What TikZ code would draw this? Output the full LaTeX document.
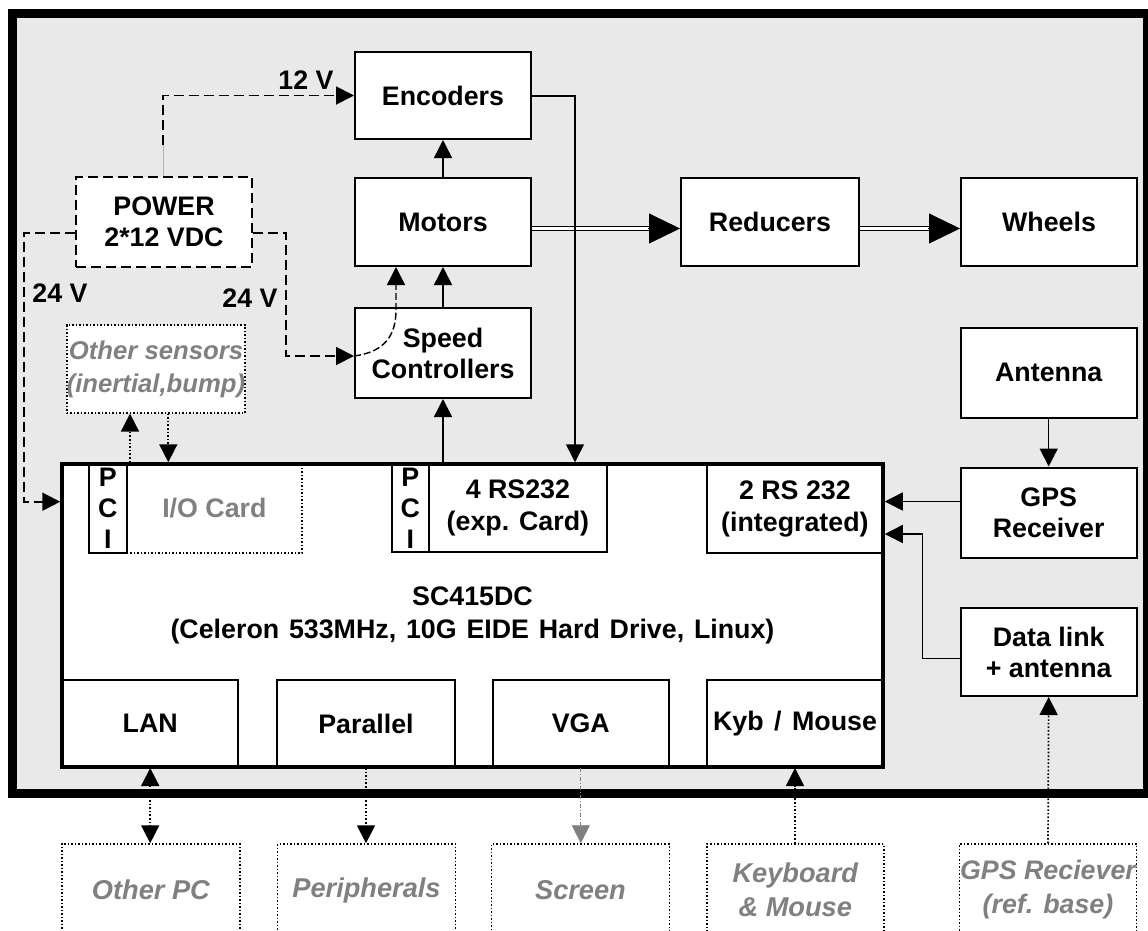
\documentclass[tikz,border=0pt]{standalone}
\usepackage{fontspec}
\setmainfont{Liberation Sans}
\usetikzlibrary{arrows.meta,calc}
\definecolor{bg}{HTML}{E9E9E9}
\definecolor{txtgray}{HTML}{808080}
\newcommand\widesp[1]{\spaceskip #1\relax}
\tikzset{
  smtip/.tip={Triangle[length=18pt,width=18pt]},
  bigtip/.tip={Triangle[length=31pt,width=30pt]},
  every node/.style={font=\fontsize{26.8}{31}\selectfont\bfseries, align=center, inner sep=0pt},
  box/.style={draw, fill=white, line width=2pt},
  mainbox/.style={draw, fill=white, line width=3.5pt, font={\fontsize{26.8}{33}\selectfont\bfseries\widesp{9.8pt}}},
  pwrbox/.style={draw, fill=white, line width=1.9pt, dash pattern=on 10pt off 5pt},
  dotbox/.style={draw, fill=white, line width=1.5pt, dash pattern=on 1.5pt off 2pt, text=txtgray},
  extbox/.style={draw, fill=white, line width=1.5pt, dash pattern=on 1.5pt off 2pt, text=txtgray,
     font=\fontsize{27.2}{34}\selectfont\bfseries\itshape},
  ln/.style={line width=1.5pt},
  pwr/.style={line width=1.9pt, dash pattern=on 10pt off 5pt},
  pwrc/.style={line width=1.4pt, dash pattern=on 7pt off 3pt},
  dot/.style={line width=1.7pt, dash pattern=on 1.6pt off 2pt},
  dashdot/.style={line width=0.9pt, draw=gray, dash pattern=on 4pt off 2pt on 1pt off 2pt},
  arr/.style={-smtip},
  arrboth/.style={smtip-smtip},
  dbl/.style={line width=1.1pt, double, double distance=3pt},
  bigarr/.style={line width=1pt, -bigtip},
}
\begin{document}
\begin{tikzpicture}[x=1pt,y=-1pt]
\useasboundingbox (0,0) rectangle (1148,930);
% outer frame
\draw[line width=9pt, fill=bg] (12.5,13.5) rectangle (1147.8,793.5);

% upper blocks
\node[box, minimum width=176pt, minimum height=87pt] (enc) at (443,95.5) {Encoders};
\node[box, minimum width=176pt, minimum height=88pt] (mot) at (443,222) {Motors};
\node[box, minimum width=176pt, minimum height=90pt] (spd) at (443,353) {Speed\\Controllers};
\node[box, minimum width=178pt, minimum height=88pt] (red) at (770,222) {Reducers};
\node[box, minimum width=176pt, minimum height=88pt] (whl) at (1049,222) {Wheels};
\node[box, minimum width=176pt, minimum height=90pt] (ant) at (1048.7,372.5) {Antenna};
\node[box, minimum width=176pt, minimum height=90pt] (gps) at (1048.7,512.5) {GPS\\Receiver};
\node[box, minimum width=176pt, minimum height=88pt] (dl) at (1048.7,652) {Data link\\+ antenna};
\node[pwrbox, minimum width=176pt, minimum height=90pt] (power) at (164,221.7) {POWER\\2*12 VDC};
\node[dotbox, minimum width=176.6pt, minimum height=87.7pt, font=\fontsize{25.7}{33}\selectfont\bfseries\itshape] (sens) at (156,369) {Other sensors\\(inertial,bump)};

% main computer
\node[mainbox, minimum width=821pt, minimum height=303pt] (main) at (472.5,615.5) {SC415DC\\(Celeron 533MHz, 10G EIDE Hard Drive, Linux)};
\node[box, minimum width=37.7pt, minimum height=89pt] (pci1) at (107.9,508.5) {P\\C\\I};
\node[dotbox, fill=none, minimum width=175.3pt, minimum height=89pt] (io) at (214.4,508.5) {I/O Card};
\node[box, minimum width=37.3pt, minimum height=88pt] (pci2) at (410.4,508) {P\\C\\I};
\node[box, minimum width=177.7pt, minimum height=88pt, font=\fontsize{26.8}{32}\selectfont\bfseries] (rs4) at (517.9,508) {4 RS232\\(exp. Card)};
\node[box, minimum width=176.3pt, minimum height=89pt, font=\fontsize{26.8}{32}\selectfont\bfseries] (rs2) at (794.9,508.5) {2 RS 232\\(integrated)};
\node[box, minimum width=176.4pt, minimum height=87pt] (lan) at (150.2,723.5) {LAN};
\node[box, minimum width=178pt, minimum height=87pt] (par) at (366,723.5) {Parallel};
\node[box, minimum width=175.5pt, minimum height=87pt] (vga) at (580.8,723.5) {VGA};
\node[box, minimum width=176pt, minimum height=87pt, font={\fontsize{26.8}{31}\selectfont\bfseries\widesp{10.5pt}}] (kyb) at (795,723.5) {Kyb / Mouse};
\draw[line width=3.5pt] (main.north west) ++(1.75,1.75) rectangle ($(main.south east)+(-1.75,-1.75)$);

% external devices
\node[extbox, minimum width=178.3pt, minimum height=92pt] (opc) at (150.9,890) {Other PC};
\node[extbox, minimum width=178pt, minimum height=92pt] (per) at (366.5,890) {Peripherals};
\node[extbox, minimum width=177.6pt, minimum height=92pt] (scr) at (580.5,890) {Screen};
\node[extbox, minimum width=177pt, minimum height=92pt] (kbd) at (795.3,890) {Keyboard\\\& Mouse};
\node[extbox, minimum width=177.4pt, minimum height=92pt, font=\fontsize{26.8}{34}\selectfont\bfseries\itshape] (gpsr) at (1048,890) {GPS Reciever\\(ref. base)};

% helper coordinates
\coordinate (pw1) at (163,145);
\coordinate (xs1) at (130,0);
\coordinate (xs2) at (168.3,0);
\coordinate (xenc) at (575,0);
\coordinate (xcurve) at (396,0);
\coordinate (ypl) at (0,501.7);
\coordinate (yspd) at (0,356);
\coordinate (ygps) at (0,501.5);
\coordinate (yd2) at (0,534);

% power connections
\draw[gray!60, line width=1pt] (power.north -| pw1) -- (pw1);
\draw[pwr,arr] (pw1) |- (enc.west);
\node (v12) at (306,80) {12 V};
\draw[pwr,arr] ($(power.west)+(0,11)$) -| (24,501.7) -- (main.west |- ypl);
\node (v24a) at (60,293) {24 V};
\draw[pwr,arr] ($(power.east)+(0,11)$) -| (286,356) -- (spd.west |- yspd);
\node (v24b) at (250,298) {24 V};
\draw[pwrc,arr] (spd.west |- yspd) .. controls (385,352) and (396,335) .. (396,310) -- (mot.south -| xcurve);

% signal connections
\draw[ln,arr] (mot.north) -- (enc.south);
\draw[ln,arr] (spd.north) -- (mot.south);
\draw[ln,arr] (main.north -| spd.south) -- (spd.south);
\draw[dbl] ($(mot.east)+(0,6.5)$) -- ($(red.west)+(-30,6.5)$);
\draw[bigarr] ($(red.west)+(-32,6.5)$) -- ($(red.west)+(0,6.5)$);
\draw[dbl] ($(red.east)+(0,6.5)$) -- ($(whl.west)+(-30,6.5)$);
\draw[bigarr] ($(whl.west)+(-32,6.5)$) -- ($(whl.west)+(0,6.5)$);
\draw[ln,arr] ($(enc.east)+(0,0.5)$) -| (main.north -| xenc);
\draw[ln,arr] (ant.south) -- (gps.north);
\draw[ln,arr] ($(gps.west)+(0,-11)$) -- (main.east |- ygps);
\draw[ln,arr] ($(dl.west)+(0,6.3)$) -| (922.3,534) -- (main.east |- yd2);

% sensors
\draw[dot,arr] (main.north -| xs1) -- (sens.south -| xs1);
\draw[dot,arr] (sens.south -| xs2) -- (main.north -| xs2);

% bottom
\draw[dot,arrboth] (lan.south) -- (lan.south |- opc.north);
\draw[dot,arr] (par.south) -- (par.south |- per.north);
\draw[dashdot,arr] (vga.south) -- (vga.south |- scr.north);
\draw[dot,arr] (kyb.south |- kbd.north) -- (kyb.south);
\draw[dot,arr] (gpsr.north) -- (dl.south);
\end{tikzpicture}
\end{document}
